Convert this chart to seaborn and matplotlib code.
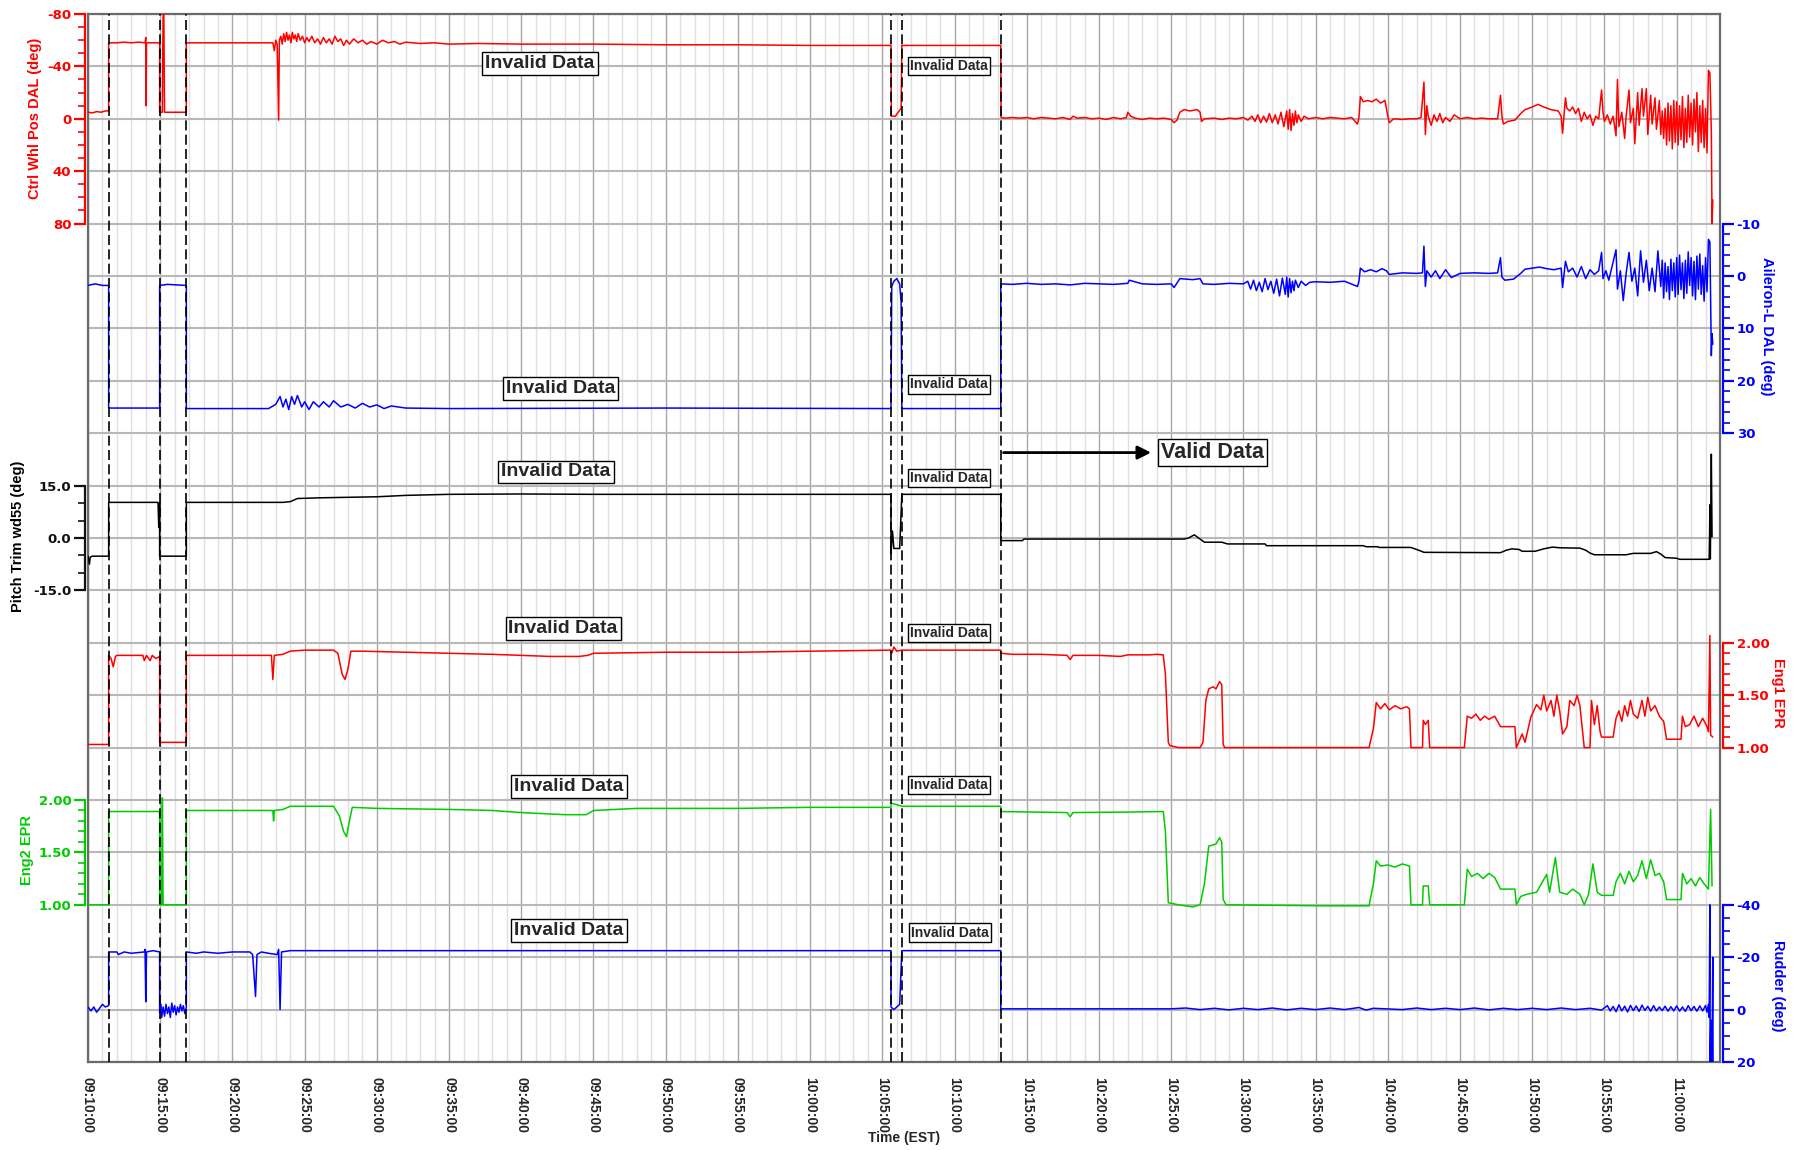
import numpy as np
import pandas as pd
import matplotlib
matplotlib.use("Agg")
import matplotlib.pyplot as plt
import seaborn as sns

# ---------------- data: (minutes after 09:10:00, value) ----------------
time_tick_labels = ["09:10:00", "09:15:00", "09:20:00", "09:25:00", "09:30:00", "09:35:00",
                    "09:40:00", "09:45:00", "09:50:00", "09:55:00", "10:00:00", "10:05:00",
                    "10:10:00", "10:15:00", "10:20:00", "10:25:00", "10:30:00", "10:35:00",
                    "10:40:00", "10:45:00", "10:50:00", "10:55:00", "11:00:00"]
segment_bounds = [1.43, 4.96, 6.81, 55.6, 56.35, 63.2]

ctrl_pts = [
    (0, -5), (0.3, -4.5), (0.6, -5.5), (0.9, -5), (1.2, -6), (1.43, -6), (1.43, -58), (2.0, -58),
    (2.5, -58.5), (3.0, -58), (3.5, -58.5), (3.95, -58), (4.0, -62), (4.02, -10), (4.05, -58),
    (4.5, -58), (4.96, -58), (4.96, -5), (5.15, -5), (5.2, -80), (5.25, -80), (5.3, -5), (6.0, -5),
    (6.81, -5), (6.81, -58), (10, -58), (12.8, -58), (12.9, -52), (13.0, -60), (13.1, -57),
    (13.2, 1), (13.25, -60), (13.35, -63), (13.45, -57), (13.55, -65), (13.65, -59), (13.75, -66),
    (13.85, -60), (13.95, -64), (14.05, -58), (14.15, -66), (14.25, -61), (14.35, -64), (14.45, -59),
    (14.55, -65), (14.7, -60), (14.85, -63), (15.0, -58), (15.15, -62), (15.3, -59), (15.5, -63),
    (15.7, -58), (15.9, -61), (16.1, -57), (16.3, -62), (16.5, -58), (16.7, -61), (16.9, -57),
    (17.1, -63), (17.3, -59), (17.5, -61), (17.7, -56), (17.9, -60), (18.1, -57), (18.4, -61),
    (18.7, -58), (19.0, -60), (19.3, -57), (19.6, -59), (20.0, -57), (20.4, -60), (20.8, -58),
    (21.2, -59), (21.6, -57), (22, -58.5), (23, -57.5), (24, -58), (25, -57), (27, -57.5),
    (30, -57), (35, -57), (40, -56.5), (45, -56.5), (50, -56), (55.6, -56), (55.62, -2),
    (55.9, -2), (56.1, -5), (56.3, -8), (56.35, -56), (63.2, -56), (63.22, -1),
    (63.5, -0.5), (64, -1), (64.5, -0.5), (65, -1), (65.5, 0), (66, -1), (66.5, -0.5), (67, 0),
    (67.5, -1), (68, 0.5), (68.2, -2), (68.5, -0.5), (69, -1), (69.5, 0), (70, -0.5), (70.5, 0.5),
    (71, -1), (71.5, 0), (71.9, -1), (72.0, -5), (72.2, -2), (72.5, -0.5), (73, 0.5), (73.5, -0.5),
    (74, 0), (74.5, -0.5), (75, 0.5), (75.2, 3), (75.4, 1), (75.6, -5), (75.9, -7), (76.3, -6),
    (76.8, -7), (77.0, -5), (77.1, 2), (77.3, 0), (78, -0.5), (78.5, 0.5), (79, -0.5), (79.5, 0),
    (80, -1), (80.3, 1), (80.6, -2), (80.8, 2), (81.0, -3), (81.2, 3), (81.4, -2), (81.6, 2.5),
    (81.8, -4), (82.0, 3), (82.2, -3), (82.4, 4), (82.6, -5), (82.8, 6), (83.0, -6), (83.1, 8),
    (83.2, -7), (83.3, 9), (83.4, -4), (83.5, 5), (83.6, -6), (83.7, 3), (83.8, -3), (84.0, 2),
    (84.2, -2), (84.5, 0), (85, -1), (85.5, 0), (86, -1), (86.5, -0.5), (87, 0), (87.5, -1),
    (87.9, 4), (88.0, -1), (88.1, -17), (88.3, -13), (88.6, -14), (88.9, -13), (89.2, -15),
    (89.5, -12), (89.8, -14), (90.0, -2), (90.1, 3), (90.4, 0), (91, 0.5), (91.5, 0), (92.0, 0),
    (92.3, -1), (92.5, -28), (92.6, 12), (92.7, -10), (92.8, -2), (93.0, 5), (93.2, -3), (93.4, 2),
    (93.6, -4), (93.8, 3), (94.0, -1), (94.3, 2), (94.6, -3), (95.0, 0), (95.5, -1), (96, 0),
    (96.5, -0.5), (97, 0), (97.6, 0), (97.8, -18), (97.9, -2), (98.0, 4), (98.3, 2), (98.8, 1),
    (99.2, -4), (99.5, -7), (100, -9), (100.4, -11), (100.8, -9), (101.3, -7), (101.8, -6),
    (102.0, -2), (102.1, 11), (102.3, -16), (102.4, -8), (102.6, -6), (102.8, -9), (103.0, -4),
    (103.2, -8), (103.4, 2), (103.6, -5), (103.8, 0), (104.0, -3), (104.2, 5), (104.4, -2),
    (104.6, 0), (104.8, -22), (104.9, -5), (105.0, 2), (105.2, -3), (105.4, 4), (105.6, -2),
    (105.8, 13), (105.9, -30), (106.0, 6), (106.2, -5), (106.4, 15), (106.5, -2), (106.7, -22),
    (106.8, 3), (107.0, -8), (107.1, 19), (107.3, -20), (107.4, 5), (107.6, -23), (107.7, -2),
    (107.9, -23), (108.0, 12), (108.2, -18), (108.3, 4), (108.5, -16), (108.6, 8), (108.8, -14),
    (108.9, 12), (109.0, -6), (109.1, 15), (109.2, -8), (109.3, 20), (109.4, -12), (109.5, 17),
    (109.6, -10), (109.7, 23), (109.8, -14), (109.9, 18), (110.0, -13), (110.1, 20), (110.2, -10),
    (110.3, 16), (110.4, -17), (110.5, 22), (110.6, -8), (110.7, 18), (110.8, -18), (110.9, 14),
    (111.0, -12), (111.1, 20), (111.2, -15), (111.3, 10), (111.4, -20), (111.5, 25), (111.6, -10),
    (111.7, 18), (111.8, -14), (111.9, 22), (112.0, -8), (112.1, 26), (112.2, -37), (112.3, -35),
    (112.4, 10), (112.45, 80), (112.5, 62)]

ail_pts = [
    (0, 1.8), (0.5, 1.5), (1.0, 1.8), (1.43, 1.8), (1.43, 25.2), (4.96, 25.2), (4.96, 1.8),
    (5.5, 1.6), (6.81, 1.8), (6.81, 25.3), (12.5, 25.3), (13, 24.5), (13.3, 23), (13.5, 25),
    (13.7, 23.5), (13.9, 25.5), (14.1, 23), (14.3, 24.5), (14.5, 22.8), (14.8, 25), (15, 24),
    (15.3, 25.5), (15.6, 24), (16, 25), (16.3, 24), (16.7, 25), (17, 23.8), (17.5, 25), (18, 24.5),
    (18.5, 25.2), (19, 24.3), (19.5, 25), (20, 24.6), (20.5, 25.3), (21, 24.8), (22, 25.2),
    (25, 25.3), (40, 25.2), (55.6, 25.3), (55.65, 2), (55.8, 1), (56.0, 0.5), (56.2, 1.5),
    (56.3, 5), (56.35, 25.3), (63.2, 25.3), (63.2, 1.5),
    (64, 1.6), (65, 1.4), (66, 1.6), (67, 1.5), (68, 1.7), (69, 1.4), (70, 1.5), (71, 1.6),
    (72, 1.4), (72.1, 0.8), (73, 1.5), (74, 1.6), (75, 1.5), (75.2, 2.2), (75.6, 0.5), (76.5, 0.7),
    (77.0, 0.5), (77.2, 1.5), (78, 1.6), (79, 1.4), (80, 1.5), (80.3, 1.0), (80.5, 2.5),
    (80.7, 0.8), (80.9, 2.8), (81.1, 1.2), (81.3, 3.0), (81.5, 0.5), (81.7, 2.6), (81.9, 1.0),
    (82.1, 3.3), (82.3, 0.6), (82.5, 3.8), (82.7, 0.4), (82.9, 3.5), (83.0, 0.2), (83.1, 4.0),
    (83.2, 0.5), (83.3, 3.2), (83.4, 1.0), (83.5, 2.8), (83.6, 0.8), (83.8, 2.2), (84.0, 1.0),
    (84.3, 1.8), (84.6, 1.2), (85, 1.1), (86, 1.2), (87, 1.0), (87.9, 2.0), (88.0, 1.0),
    (88.1, -1.5), (88.4, -0.8), (88.8, -1.2), (89.2, -0.8), (89.6, -1.4), (89.9, -1.0),
    (90.1, -0.3), (91, -0.6), (92.0, -0.5), (92.4, -0.6), (92.5, -5.7), (92.6, 2.0), (92.7, -1.0),
    (93.0, 0.2), (93.3, -1.0), (93.6, 0.5), (94.0, -1.2), (94.4, 0.3), (95, -0.5), (96, -0.6),
    (97, -0.5), (97.6, -0.6), (97.8, -3.5), (97.9, 0.2), (98.1, 0.8), (98.7, 0.6), (99.2, -0.5),
    (99.5, -1.3), (100, -1.5), (100.5, -1.7), (101, -1.4), (101.5, -1.2), (102.0, -1.5),
    (102.1, 2.2), (102.3, -2.8), (102.5, -0.8), (102.8, -1.5), (103.1, 0.2), (103.4, -1.8),
    (103.7, 0.5), (104.0, -1.2), (104.3, -0.3), (104.6, -1.0), (104.8, -4.5), (104.9, 0.5),
    (105.1, -1.0), (105.3, 0.8), (105.5, -1.5), (105.8, -5.0), (105.9, 2.5), (106.1, -1.0),
    (106.3, 4.7), (106.5, -0.5), (106.7, -4.5), (106.9, 1.0), (107.1, -1.5), (107.3, 3.8),
    (107.5, -4.8), (107.7, 1.2), (107.9, -3.0), (108.1, 2.8), (108.3, -1.5), (108.5, 3.0),
    (108.7, -4.8), (108.9, 2.0), (109.0, -3.0), (109.1, 4.2), (109.2, -2.5), (109.3, 3.0),
    (109.4, -1.8), (109.5, 4.5), (109.6, -3.2), (109.7, 2.8), (109.8, -2.5), (109.9, 4.0),
    (110.0, -3.5), (110.1, 3.5), (110.2, -4.0), (110.3, 2.6), (110.4, -2.5), (110.5, 4.3),
    (110.6, -3.0), (110.7, 3.3), (110.8, -4.6), (110.9, 1.8), (111.0, -3.5), (111.1, 3.8),
    (111.2, -2.8), (111.3, 4.5), (111.4, -3.8), (111.5, 2.5), (111.6, -4.2), (111.7, 3.5),
    (111.8, -2.0), (111.9, 4.8), (112.0, -3.5), (112.1, 3.0), (112.2, -7.0), (112.3, -6.5),
    (112.4, 15.2), (112.45, 11.0), (112.5, 13.0)]

pitch_pts = [
    (0, -5.2), (0.1, -7.5), (0.15, -5.5), (0.3, -5.2), (1.43, -5.2), (1.43, 10.2), (4.85, 10.2),
    (4.9, 3), (4.96, 10), (4.96, -5.2), (6.81, -5.2), (6.81, 10.2), (13.5, 10.2), (14.0, 10.4),
    (14.5, 11.3), (16, 11.5), (20, 11.8), (22, 12.2), (25, 12.5), (30, 12.6), (35, 12.5),
    (40, 12.5), (55.6, 12.5), (55.6, -4.5), (55.7, 2), (55.8, -3), (56.2, -3), (56.35, 12.5),
    (63.2, 12.5), (63.2, -0.75), (64.7, -0.75), (64.8, -0.3), (75.9, -0.3), (76.2, 0), (76.6, 0.9),
    (76.9, 0), (77.3, -1.2), (78.5, -1.2), (78.9, -1.7), (81.5, -1.7), (81.6, -2.2), (88.3, -2.2),
    (88.5, -2.5), (89.3, -2.5), (89.4, -2.7), (91.6, -2.7), (92.2, -3.6), (92.5, -4.1),
    (97.8, -4.2), (98.2, -3.5), (98.6, -3.1), (99.1, -3.3), (99.3, -3.8), (100.2, -3.8),
    (100.8, -3.1), (101.4, -2.6), (101.9, -2.8), (103.3, -2.9), (103.7, -3.5), (104.0, -4.3),
    (104.3, -4.8), (106.5, -4.8), (107.0, -4.4), (108.2, -4.4), (108.6, -3.9), (108.9, -4.6),
    (109.2, -5.6), (110.0, -5.8), (110.2, -6.1), (112.25, -6.1), (112.28, 1.5), (112.3, 9.5),
    (112.33, -6.0), (112.4, 24), (112.45, 0.3)]

eng1_pts = [
    (0, 1.03), (1.43, 1.03), (1.43, 1.88), (1.6, 1.85), (1.75, 1.77), (1.9, 1.87), (2.0, 1.88),
    (3.8, 1.88), (3.9, 1.83), (4.05, 1.88), (4.3, 1.83), (4.45, 1.88), (4.7, 1.85), (4.96, 1.87),
    (4.96, 1.05), (6.81, 1.05), (6.81, 1.88), (12.7, 1.88), (12.8, 1.65), (12.9, 1.88),
    (13.5, 1.89), (14, 1.92), (15, 1.93), (17, 1.93), (17.3, 1.9), (17.6, 1.7), (17.8, 1.65),
    (18.0, 1.75), (18.2, 1.92), (19, 1.92), (22, 1.91), (25, 1.9), (28, 1.89), (30, 1.88),
    (32, 1.87), (34, 1.87), (34.6, 1.88), (35, 1.9), (40, 1.91), (45, 1.91), (50, 1.92),
    (55.6, 1.93), (55.65, 1.9), (55.8, 1.96), (56, 1.92), (56.35, 1.93), (63.2, 1.93),
    (63.2, 1.9), (64, 1.89), (66, 1.89), (67.8, 1.88), (68.0, 1.84), (68.2, 1.88), (70, 1.88),
    (71.5, 1.87), (72, 1.885), (73.5, 1.885), (74.0, 1.89), (74.45, 1.885), (74.6, 1.7),
    (74.8, 1.05), (74.9, 1.02), (75.5, 1.0), (77.0, 1.0), (77.2, 1.05), (77.4, 1.45), (77.6, 1.56),
    (77.9, 1.58), (78.1, 1.56), (78.35, 1.63), (78.5, 1.6), (78.6, 1.03), (78.7, 1.0), (88.7, 1.0),
    (89.0, 1.18), (89.2, 1.43), (89.5, 1.37), (89.8, 1.42), (90.1, 1.36), (90.5, 1.4),
    (90.9, 1.37), (91.3, 1.39), (91.5, 1.37), (91.6, 1.0), (92.4, 1.0), (92.45, 1.26),
    (92.6, 1.22), (92.8, 1.26), (92.9, 1.0), (95.3, 1.0), (95.5, 1.3), (95.8, 1.28), (96.1, 1.32),
    (96.4, 1.26), (96.7, 1.30), (97.0, 1.27), (97.4, 1.3), (97.8, 1.2), (98.8, 1.2), (98.9, 1.0),
    (99.3, 1.13), (99.5, 1.05), (99.9, 1.29), (100.3, 1.41), (100.6, 1.36), (100.8, 1.5),
    (101.0, 1.35), (101.3, 1.45), (101.5, 1.3), (101.7, 1.5), (101.9, 1.35), (102.1, 1.13),
    (102.4, 1.2), (102.6, 1.45), (102.9, 1.4), (103.1, 1.5), (103.3, 1.4), (103.6, 1.0),
    (104.0, 1.0), (104.1, 1.45), (104.3, 1.22), (104.5, 1.4), (104.7, 1.15), (104.8, 1.1),
    (105.6, 1.1), (105.8, 1.28), (106.0, 1.35), (106.2, 1.25), (106.4, 1.4), (106.6, 1.3),
    (106.8, 1.45), (107.0, 1.32), (107.3, 1.28), (107.6, 1.45), (107.8, 1.3), (108.0, 1.48),
    (108.2, 1.35), (108.5, 1.4), (108.8, 1.3), (109.1, 1.25), (109.3, 1.08), (110.3, 1.08),
    (110.4, 1.3), (110.6, 1.2), (110.9, 1.22), (111.2, 1.3), (111.5, 1.2), (111.8, 1.28),
    (112.1, 1.2), (112.2, 1.15), (112.3, 2.07), (112.35, 1.12), (112.5, 1.1)]

eng2_pts = [
    (0, 1.0), (1.43, 1.0), (1.43, 1.89), (4.96, 1.89), (4.96, 1.0), (5.1, 1.0), (5.15, 2.02),
    (5.2, 1.0), (6.81, 1.0), (6.81, 1.9), (12.8, 1.9), (12.85, 1.8), (12.9, 1.9), (13.5, 1.91),
    (14, 1.94), (17, 1.94), (17.4, 1.85), (17.7, 1.7), (17.9, 1.65), (18.1, 1.8), (18.3, 1.93),
    (20, 1.92), (25, 1.91), (28, 1.9), (30, 1.88), (33, 1.86), (34.5, 1.86), (35, 1.9), (38, 1.92),
    (45, 1.92), (50, 1.93), (55.6, 1.93), (55.62, 1.97), (56.35, 1.94), (63.2, 1.94),
    (63.2, 1.89), (67.8, 1.88), (68, 1.84), (68.2, 1.88), (72, 1.885), (74.45, 1.89), (74.6, 1.7),
    (74.8, 1.02), (75.5, 1.0), (76.5, 0.98), (77.0, 1.0), (77.3, 1.2), (77.6, 1.56), (78.1, 1.58),
    (78.35, 1.64), (78.5, 1.6), (78.6, 1.05), (78.8, 1.0), (86, 0.99), (88.7, 0.99), (89.0, 1.2),
    (89.2, 1.42), (89.5, 1.37), (90, 1.38), (90.5, 1.36), (91, 1.39), (91.5, 1.37), (91.6, 1.0),
    (92.4, 1.0), (92.45, 1.18), (92.8, 1.18), (92.9, 1.0), (95.3, 1.0), (95.5, 1.34), (95.8, 1.27),
    (96.2, 1.3), (96.6, 1.25), (97.0, 1.3), (97.4, 1.26), (97.8, 1.15), (98.8, 1.15), (98.9, 1.0),
    (99.2, 1.08), (99.6, 1.1), (100.3, 1.12), (101.0, 1.29), (101.2, 1.12), (101.6, 1.45),
    (101.9, 1.12), (102.4, 1.1), (102.8, 1.15), (103.3, 1.1), (103.6, 1.0), (103.9, 1.1),
    (104.2, 1.39), (104.5, 1.12), (104.8, 1.09), (105.6, 1.09), (105.8, 1.22), (106.1, 1.3),
    (106.4, 1.2), (106.7, 1.32), (107.0, 1.22), (107.3, 1.28), (107.6, 1.42), (107.9, 1.25),
    (108.2, 1.43), (108.5, 1.28), (108.8, 1.3), (109.1, 1.22), (109.3, 1.05), (110.3, 1.05),
    (110.4, 1.3), (110.7, 1.2), (111.0, 1.25), (111.3, 1.18), (111.6, 1.26), (111.9, 1.2),
    (112.2, 1.15), (112.35, 1.91), (112.45, 1.18)]

rud_pts = [
    (0, -1), (0.2, 0.5), (0.4, -1), (0.6, 1), (0.8, -0.5), (1.0, -2), (1.2, -1), (1.43, -1.5),
    (1.43, -22), (2.0, -22), (2.1, -21), (2.5, -22), (3.0, -21.5), (3.9, -22), (3.95, -23),
    (4.0, -3), (4.05, -22), (4.5, -22.5), (4.96, -22), (4.96, 1), (5.05, -2), (5.1, 3), (5.2, -1),
    (5.3, 2.5), (5.4, -2), (5.5, 1.5), (5.6, -1), (5.7, 3), (5.8, -2.5), (5.9, 1), (6.0, -1.5),
    (6.1, 2), (6.2, -1), (6.3, 1), (6.4, -2), (6.5, 0.5), (6.6, -1.5), (6.7, 1.5), (6.81, -1),
    (6.81, -22), (7.5, -21.5), (8, -22), (9, -21.5), (10, -22), (11.2, -22), (11.4, -21),
    (11.6, -5), (11.7, -21), (12.0, -22), (12.5, -21.5), (13.1, -21), (13.2, -23), (13.3, 0),
    (13.4, -22), (14, -22.5), (55.6, -22.5), (55.6, -1), (55.8, 0), (56.2, -2), (56.35, -22.5),
    (63.2, -22.5), (63.2, -0.3), (75, -0.3), (76, -0.6), (77, 0), (78, -0.5), (79, 0.1),
    (80, -0.5), (81, 0), (82, -0.6), (83, 0.1), (84, -0.5), (85, 0), (86, -0.6), (87, 0),
    (88, -0.8), (88.5, 0.2), (89, -0.5), (91, 0), (92, -0.6), (93, 0), (94, -0.5), (95, 0),
    (96, -0.6), (97, 0.1), (98, -0.5), (99, 0), (100, -0.5), (101, 0), (102, -0.6), (103, 0),
    (104, -0.5), (104.8, 0.2), (105.2, -1.5), (105.4, 0.5), (105.6, -1.2), (105.8, 0.8),
    (106.0, -1.8), (106.2, 0.5), (106.4, -1.3), (106.6, 0.9), (106.8, -1.6), (107.0, 0.4),
    (107.2, -1.4), (107.4, 0.7), (107.6, -1.7), (107.8, 0.3), (108.0, -1.2), (108.2, 0.6),
    (108.4, -1.5), (108.6, 0.5), (108.8, -1.0), (109.0, 0.4), (109.2, -1.3), (109.4, 0.6),
    (109.6, -1.1), (109.8, 0.5), (110.0, -1.4), (110.2, 0.6), (110.4, -1.0), (110.6, 0.7),
    (110.8, -1.5), (111.0, 0.4), (111.2, -1.2), (111.4, 0.6), (111.6, -1.4), (111.8, 0.5),
    (112.0, -1.6), (112.1, 1), (112.2, -2), (112.25, 3), (112.3, -40), (112.32, 20), (112.36, 4),
    (112.42, 20), (112.46, 8), (112.5, -20), (112.52, 20)]

# tick values / labels of the six signal scales
ctrl_ticks = [-80, -40, 0, 40, 80]
ctrl_labels = ["-80", "-40", "0", "40", "80"]
ail_ticks = [-10, 0, 10, 20, 30]
ail_labels = ["-10", "0", "10", "20", "30"]
pitch_ticks = [-15, 0, 15]
pitch_labels = ["-15.0", "0.0", "15.0"]
epr_ticks = [1.0, 1.5, 2.0]
epr_labels = ["1.00", "1.50", "2.00"]
rud_ticks = [-40, -20, 0, 20]
rud_labels = ["-40", "-20", "0", "20"]

# ---------------- figure ----------------
sns.set_style("white")
plt.rcParams["font.family"] = ["DejaVu Sans"]
plt.rcParams["axes.unicode_minus"] = False

W, H = 1808, 1150
fig = plt.figure(figsize=(W / 100, H / 100), dpi=100)
L, R, T, B = 88, 1720, 14, 1062
rect = [L / W, 1 - B / H, (R - L) / W, (B - T) / H]
XMAX = 113.0

ax = fig.add_axes(rect)
ax.set_facecolor("white")
ax.set_xlim(0, XMAX)
ax.set_ylim(0, 20)
ax.set_xticks(np.arange(0, 111, 5))
ax.set_xticks(np.arange(0, XMAX, 1), minor=True)
ax.set_xticklabels(time_tick_labels, rotation=270, ha="center", va="top",
                   fontsize=10, fontweight="bold", family="Liberation Sans")
ax.set_yticks(np.arange(0, 21, 1))
ax.tick_params(axis="y", left=False, labelleft=False)
ax.tick_params(axis="x", which="major", direction="out", length=8, width=1.2, color="#404040", pad=3)
ax.tick_params(axis="x", which="minor", direction="out", length=5, width=1.0, color="#404040")
ax.xaxis.grid(True, which="minor", color="#e0e0e0", lw=1.0)
ax.xaxis.grid(True, which="major", color="#a8a8a8", lw=1.0)
ax.yaxis.grid(True, which="major", color="#b8b8b8", lw=1.5)
ax.set_axisbelow(True)
for s in ax.spines.values():
    s.set_color("#6a6a6a")
    s.set_linewidth(1.6)
    s.set_visible(True)


def overlay(ylim, side, bounds, ticks, labels, minors, color):
    a = fig.add_axes(rect)
    a.patch.set_visible(False)
    a.set_xlim(0, XMAX)
    a.set_ylim(*ylim)
    a.grid(False)
    for s in a.spines.values():
        s.set_visible(False)
    sp = a.spines[side]
    sp.set_visible(True)
    sp.set_bounds(*bounds)
    sp.set_color(color)
    sp.set_linewidth(1.6)
    sp.set_position(("outward", 2))
    a.xaxis.set_visible(False)
    a.yaxis.set_ticks_position(side)
    a.set_yticks(ticks)
    a.set_yticklabels(labels, fontsize=9.5, fontweight="bold")
    a.set_yticks(minors, minor=True)
    a.tick_params(axis="y", which="major", direction="out", length=8, width=1.6,
                  color=color, labelcolor=color, pad=2)
    a.tick_params(axis="y", which="minor", direction="out", length=5, width=1.2, color=color)
    return a


def draw(a, pts, color, ylim):
    df = pd.DataFrame(pts, columns=["t", "v"])
    sns.lineplot(data=df, x="t", y="v", ax=a, color=color, lw=1.1, sort=False,
                 estimator=None, errorbar=None)
    a.set_xlabel("")
    a.set_ylabel("")
    a.set_xlim(0, XMAX)
    a.set_ylim(*ylim)


RED, BLUE, BLACK, GREEN = "#ff0000", "#0000ff", "#000000", "#00cc00"

a1 = overlay((720, -80), "left", (-80, 80), ctrl_ticks, ctrl_labels, np.arange(-80, 81, 10), RED)
draw(a1, ctrl_pts, RED, (720, -80))

a2 = overlay((150, -50), "right", (-10, 30), ail_ticks, ail_labels, np.arange(-10, 31, 2), BLUE)
draw(a2, ail_pts, BLUE, (150, -50))

a3 = overlay((-150, 150), "left", (-15, 15), pitch_ticks, pitch_labels, np.arange(-15, 16, 5), "#111111")
draw(a3, pitch_pts, BLACK, (-150, 150))

a4 = overlay((-2, 8), "right", (1, 2), epr_ticks, epr_labels, np.arange(1.0, 2.01, 0.1), RED)
draw(a4, eng1_pts, RED, (-2, 8))

a5 = overlay((-0.5, 9.5), "left", (1, 2), epr_ticks, epr_labels, np.arange(1.0, 2.01, 0.1), GREEN)
draw(a5, eng2_pts, GREEN, (-0.5, 9.5))

a6 = overlay((20, -380), "right", (-40, 20), rud_ticks, rud_labels, np.arange(-40, 21, 5), BLUE)
draw(a6, rud_pts, BLUE, (20, -380))

# top annotation layer
top = fig.add_axes(rect)
top.patch.set_visible(False)
top.set_xlim(0, XMAX)
top.set_ylim(0, 20)
top.axis("off")
for xb in segment_bounds:
    top.axvline(xb, color="black", lw=1.2, linestyle=(0, (6, 2.6)))

big_pos = [(31.3, 19.05), (32.7, 12.86), (32.4, 11.26), (32.9, 8.28), (33.3, 5.26), (33.3, 2.51)]
small_pos = [(59.6, 19.0), (59.6, 12.93), (59.6, 11.15), (59.6, 8.19), (59.6, 5.29), (59.7, 2.47)]
box = dict(boxstyle="square,pad=0.15", fc="white", ec="black", lw=1.0)
for x, y in big_pos:
    top.text(x, y, "Invalid Data", ha="center", va="center", fontsize=14, fontweight="bold",
             family="Liberation Sans", bbox=box, zorder=10)
for x, y in small_pos:
    top.text(x, y, "Invalid Data", ha="center", va="center", fontsize=10, fontweight="bold",
             family="Liberation Sans", bbox=box, zorder=10)
top.annotate("", xy=(73.8, 11.63), xytext=(63.2, 11.63),
             arrowprops=dict(arrowstyle="-|>", color="black", lw=2, mutation_scale=20))
top.text(77.85, 11.63, "Valid Data", ha="center", va="center", fontsize=15.5, fontweight="bold",
         family="Liberation Sans", bbox=dict(boxstyle="square,pad=0.15", fc="white", ec="black", lw=1.0),
         zorder=10)


def ftext(x, y, s, color, rot):
    fig.text(x / W, 1 - y / H, s, color=color, rotation=rot, ha="center", va="center",
             fontsize=10.5, fontweight="bold", family="Liberation Sans")


ftext(35, 118, "Ctrl Whl Pos DAL (deg)", RED, 90)
ftext(18, 536, "Pitch Trim wd55 (deg)", BLACK, 90)
ftext(27, 850, "Eng2 EPR", GREEN, 90)
ftext(1767, 326, "Aileron-L DAL (deg)", BLUE, 270)
ftext(1778, 693, "Eng1 EPR", RED, 270)
ftext(1778, 986, "Rudder (deg)", BLUE, 270)
fig.text(904 / W, 1 - 1138 / H, "Time (EST)", ha="center", va="center", fontsize=10,
         fontweight="bold", family="Liberation Sans")

fig.savefig("out.png", dpi=100)
